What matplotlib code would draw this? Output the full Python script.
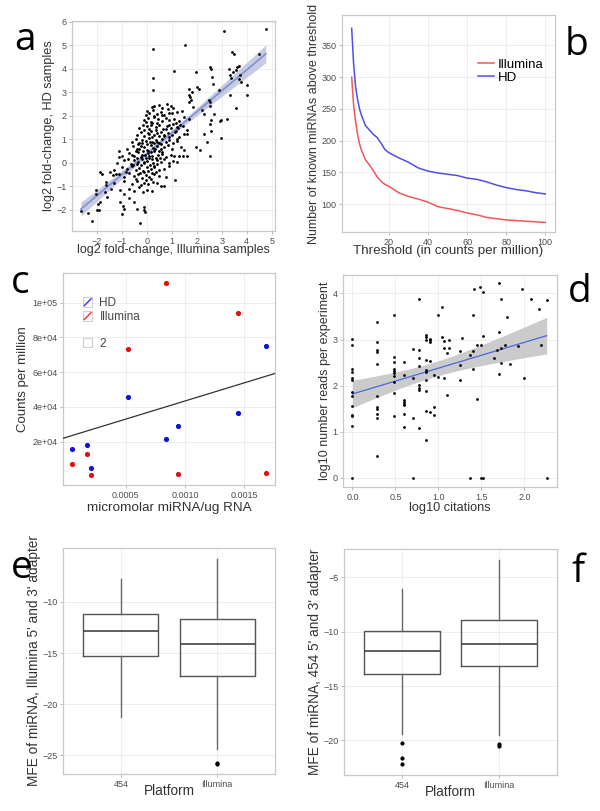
import numpy as np
import matplotlib
matplotlib.use("Agg")
import matplotlib.pyplot as plt
from matplotlib.lines import Line2D
from matplotlib.patches import Rectangle
from matplotlib.legend_handler import HandlerBase

plt.rcParams['font.family'] = ['Liberation Sans', 'DejaVu Sans']

# ---------------- Panel a data ----------------
a_x = [4.76, 3.09, 1.51, 0.24, 3.4, 3.47, 4.47, 1.07, 1.96, 2.53, 2.56, 3.29, 3.6, 3.69, 3.57,
       0.23, 2.6, 3.43, 3.33, 3.73, 3.36, 0.23, 2.0, 2.09, 1.69, 1.67, 1.8, 2.63, 4.0, 4.0, 3.31,
       2.87, 3.69, 3.76, 1.73, 2.53, 2.47, 1.76, 1.69, 1.84, 3.57, 2.53, 2.2, 2.27, 2.67, 3.2, 2.97,
       2.93, 2.56, 2.51, 2.56, 2.96, 2.27, 1.97, 2.11, 2.51, 2.4, 0.87, 1.2, 1.33, 1.13, 1.6, 1.47,
       1.2, 1.13, 0.56, 0.67, -0.13, -0.11, -0.07, -0.27, -0.4, -0.53, -0.73, -1.0, -0.97, -0.93,
       -1.07, -0.93, -1.09, -2.2, -2.37, -2.64, -2.0, -1.91, -1.87, -1.97, -2.04, -2.03, -1.89,
       -1.8, -1.64, -1.64, -1.67, -1.6, -1.43, -1.33, -1.24, -1.36, -1.13, -1.11, -1.47,
       0.2, 0.3, 0.5, 0.62, 0.8, 0.95, 1.05,
       -0.05, 0.02, 0.1, 0.25, 0.4, 0.55, 0.7, 0.85, 1.0, 1.2, 1.4,
       -0.1, 0.05, 0.15, 0.3, 0.45, 0.6, 0.75, 0.9, 1.1, 1.3, 1.5, 1.7,
       -0.3, -0.15, 0.0, 0.1, 0.2, 0.35, 0.5, 0.65, 0.8, 0.95, 1.05, 1.25, 1.45,
       -0.4, -0.25, -0.1, 0.05, 0.15, 0.3, 0.4, 0.55, 0.7, 0.85, 1.0, 1.15, 1.3, 1.6,
       -0.6, -0.45, -0.3, -0.2, -0.05, 0.1, 0.2, 0.35, 0.5, 0.6, 0.75, 0.9, 1.05, 1.2,
       -0.8, -0.55, -0.4, -0.25, -0.1, 0.0, 0.15, 0.25, 0.4, 0.55, 0.7, 0.85, 1.0, 1.35, 1.5,
       -1.0, -0.7, -0.5, -0.35, -0.2, -0.05, 0.05, 0.2, 0.3, 0.45, 0.6, 0.75, 0.95, 1.1, 1.3, 1.45, 1.6,
       -1.2, -0.9, -0.65, -0.5, -0.35, -0.2, -0.1, 0.0, 0.1, 0.25, 0.4, 0.55, 0.7, 0.9, 1.05, 1.2,
       -1.3, -1.0, -0.8, -0.6, -0.45, -0.3, -0.15, 0.0, 0.15, 0.3, 0.5, 0.7, 0.9,
       -1.1, -0.9, -0.7, -0.5, -0.35, -0.2, -0.05, 0.1, 0.3, 0.5, 0.75,
       -0.9, -0.6, -0.4, -0.25, -0.1, 0.05, 0.25, 0.4,
       -0.7, -0.5, -0.3, -0.15, 0.0, 0.2,
       -0.45, -0.3, -0.15, 0.05, 0.18, 0.32, 0.48, -0.38, -0.22, -0.08, 0.08, 0.22, 0.36, 0.52,
       -0.55, -0.4, -0.25, -0.12, 0.12, 0.28, 0.42, -0.35, -0.18, 0.0, 0.12, 0.28, 0.42, 0.58,
       -0.1, 0.08, 0.22, 0.38, 0.5, -0.28, -0.12, 0.05, 0.2, 0.38, -0.42, -0.05, 0.15, -0.6,
       -0.75, -0.85, 0.62, 0.68, 0.78, 0.9, 1.15, 0.15, 0.28, 0.4, -0.02, 0.6, 0.88]
a_y = [5.71, 5.61, 5.03, 4.86, 4.7, 4.62, 4.62, 3.89, 3.86, 4.08, 4.0, 4.0, 4.08, 4.12, 3.96,
       3.62, 3.65, 3.86, 3.72, 3.72, 3.61, 3.08, 3.22, 3.15, 3.15, 2.9, 3.01, 3.37, 3.3, 2.9, 2.87,
       3.08, 3.58, 3.44, 2.8, 2.59, 2.66, 2.68, 2.59, 2.37, 2.33, 2.4, 2.23, 2.09, 2.09, 1.88, 1.83,
       1.76, 1.8, 1.63, 1.35, 1.07, 1.24, 0.67, 0.55, 0.28, 0.88, 1.09, 1.52, 1.59, 1.31, 1.38, 1.24,
       1.02, -0.75, -0.99, -1.0, -1.89, -2.0, -2.1, -2.57, -1.96, -1.68, -1.49, -2.17, -1.85, -1.96,
       -1.68, -1.32, -1.18, -2.5, -2.13, -2.07, -2.0, -2.03, -1.68, -1.75, -1.32, -1.18, -0.4,
       -0.47, -0.97, -0.82, -1.25, -1.46, -1.11, -0.87, -0.47, -0.54, 0.48, 0.24, -0.4,
       2.38, 2.42, 2.45, 2.35, 2.5, 2.4, 2.33,
       2.05, 2.2, 2.12, 2.25, 2.08, 2.18, 2.02, 2.28, 2.1, 2.15, 2.22,
       1.82, 1.9, 1.75, 1.95, 1.85, 1.78, 1.92, 1.8, 1.88, 1.76, 1.95, 1.85,
       1.5, 1.62, 1.55, 1.45, 1.68, 1.52, 1.6, 1.42, 1.58, 1.5, 1.65, 1.48, 1.56,
       1.2, 1.3, 1.15, 1.28, 1.35, 1.18, 1.25, 1.32, 1.12, 1.28, 1.2, 1.35, 1.1, 1.22,
       0.9, 1.0, 0.85, 0.98, 0.92, 1.05, 0.88, 0.95, 0.82, 1.0, 0.9, 0.97, 0.85, 0.93,
       0.6, 0.7, 0.58, 0.72, 0.65, 0.55, 0.75, 0.62, 0.7, 0.58, 0.66, 0.74, 0.6, 0.68, 0.55,
       0.3, 0.4, 0.28, 0.45, 0.35, 0.22, 0.4, 0.3, 0.48, 0.32, 0.38, 0.25, 0.35, 0.3, 0.3, 0.3, 0.3,
       0.0, 0.1, -0.05, 0.12, 0.02, 0.15, -0.02, 0.08, 0.18, 0.0, 0.1, 0.05, 0.15, 0.0, 0.08, 0.05,
       -0.3, -0.2, -0.28, -0.15, -0.32, -0.22, -0.35, -0.18, -0.28, -0.2, -0.3, -0.25, -0.15,
       -0.5, -0.6, -0.45, -0.58, -0.5, -0.65, -0.52, -0.6, -0.48, -0.55, -0.62,
       -0.8, -0.9, -0.78, -0.95, -0.85, -0.9, -0.82, -0.88,
       -1.1, -1.2, -1.05, -1.25, -1.15, -1.22,
       0.5, 0.6, 0.48, 0.52, 0.45, 0.58, 0.5, 0.18, 0.25, 0.32, 0.27, 0.14, 0.2, 0.22,
       -0.1, -0.05, -0.1, 0.05, -0.08, -0.12, -0.05, 0.8, 0.85, 0.78, 0.9, 0.82, 0.88, 0.8,
       1.38, 1.22, 1.1, 1.4, 1.12, -0.42, -0.4, -0.35, -0.42, -0.38, -0.7, -0.72, -0.7, 0.35,
       0.15, -0.4, 0.45, 1.2, 1.45, 1.6, 1.7, 1.62, 1.98, 1.68, 1.72, 2.05, 2.12]
a_xticks = [-2, -1, 0, 1, 2, 3, 4, 5]
a_yticks = [-2, -1, 0, 1, 2, 3, 4, 5, 6]

# ---------------- Panel b data ----------------
b_threshold = [1, 2, 3, 4, 5, 6, 8, 10, 12, 14, 16, 18, 20, 25, 30, 35, 40, 45, 50, 55, 60,
               65, 70, 75, 80, 85, 90, 95, 100]
b_hd = [377, 320, 285, 265, 250, 240, 224, 217, 210, 205, 196, 186, 181, 173, 166, 157, 152,
        149, 147, 145, 141, 139, 135, 130, 126, 123, 121, 118, 116]
b_illumina = [300, 255, 230, 210, 195, 185, 170, 162, 153, 143, 136, 131, 128, 118, 112, 108,
              103, 96, 93, 90, 86, 83, 79, 77, 75, 74, 73, 72, 71]
b_xticks = [20, 40, 60, 80, 100]
b_yticks = [100, 150, 200, 250, 300, 350]

# ---------------- Panel c data ----------------
c_conc = [0.00005, 0.00017, 0.00021, 0.00052, 0.00084, 0.00094, 0.00145, 0.00168]
c_hd = [15800, 18100, 4600, 45800, 21400, 29000, 36200, 74800]
c_illumina = [7100, 12900, 1000, 73500, 111300, 1400, 93700, 2100]
c_line_intercept = 22500
c_line_slope = 2.085e7
c_xticks = [0.0005, 0.0010, 0.0015]
c_ytick_values = [20000, 40000, 60000, 80000, 100000]
c_ytick_labels = ["2e+04", "4e+04", "6e+04", "8e+04", "1e+05"]

# ---------------- Panel d data ----------------
d_cit = [0.0]*13 + [0.29]*11 + [0.48]*10 + [0.6]*8 + [0.7]*4 + [0.78]*8 + [0.85]*10 + \
        [0.9]*5 + [0.95]*3 + [1.0]*2 + [1.04]*2 + [1.07]*3 + [1.1]*2 + [1.12]*2 + [1.25]*3 + \
        [1.28, 1.37, 1.37, 1.4, 1.4, 1.4, 1.42, 1.45, 1.45, 1.48, 1.5, 1.5, 1.52, 1.52, 1.52,
         1.65, 1.68, 1.71, 1.71, 1.71, 1.73, 1.73, 1.73, 1.78, 1.8, 1.83, 1.93, 1.97, 2.0,
         2.08, 2.17, 2.19, 2.26, 2.26]
d_reads = [3.02, 2.89, 2.35, 2.30, 2.16, 2.12, 1.87, 1.77, 1.56, 1.37, 1.34, 1.12, 0.0,
           3.38, 2.95, 2.77, 2.73, 2.47, 1.77, 1.54, 1.50, 1.39, 1.29, 0.48,
           3.54, 2.63, 2.52, 2.35, 2.31, 2.28, 2.21, 2.08, 1.83, 1.35,
           2.52, 2.23, 1.69, 1.65, 1.61, 1.58, 1.39, 1.10,
           2.79, 2.17, 1.30, 0.0,
           3.89, 2.77, 2.59, 2.42, 2.01, 1.94, 1.90, 1.09,
           3.10, 3.06, 2.99, 2.55, 2.34, 2.30, 2.12, 1.88, 1.45, 0.82,
           3.02, 2.99, 2.95, 2.53, 1.43,
           2.23, 1.54, 1.37,
           3.53, 2.18,
           3.70, 3.06,
           2.97, 2.82, 2.16,
           2.70, 1.79,
           3.00, 2.81,
           2.75, 2.44, 2.12,
           3.04, 2.66, 0.0, 3.54, 2.75, 2.36, 4.09, 2.88, 1.70, 4.14, 2.88, 0.0, 4.04, 3.07, 0.0,
           2.59, 2.77, 4.22, 3.17, 2.26, 3.87, 2.48, 2.82, 2.88, 3.49, 2.46, 2.86, 4.09, 2.16,
           3.89, 3.67, 2.89, 3.86, 0.0]
d_xticks = [0.0, 0.5, 1.0, 1.5, 2.0]
d_yticks = [0, 1, 2, 3, 4]

# ---------------- Panels e, f data (box statistics) ----------------
platforms = ["454", "Illumina"]
e_whislo = [-21.2, -24.35]
e_q1 = [-15.25, -17.2]
e_med = [-12.8, -14.1]
e_q3 = [-11.17, -11.66]
e_whishi = [-7.8, -5.8]
e_fliers = [[], [-25.7, -25.85]]
f_whislo = [-19.45, -19.5]
f_q1 = [-13.93, -13.16]
f_med = [-11.75, -11.13]
f_q3 = [-9.94, -8.93]
f_whishi = [-6.07, -3.4]
f_fliers = [[-20.28, -21.66, -22.2], [-20.37, -20.52]]
e_yticks = [-25, -20, -15, -10]
f_yticks = [-20, -15, -10, -5]

# ---------------- figure ----------------
W, H = 600, 811
fig = plt.figure(figsize=(W/100, H/100), dpi=100)

def add_ax(l, r, t, b):
    return fig.add_axes([l/W, 1 - b/H, (r-l)/W, (b-t)/H])

GRID = '#ebebeb'
BORDER = '#c8c8c8'
TICKC = '#4d4d4d'
LABC = '#333333'

def style(ax, tick_fs=6.5):
    ax.set_facecolor('white')
    for s in ax.spines.values():
        s.set_color(BORDER)
        s.set_linewidth(0.9)
    ax.grid(True, which='major', color=GRID, linewidth=0.6)
    ax.set_axisbelow(True)
    ax.tick_params(axis='both', colors='#b0b0b0', labelcolor=TICKC, labelsize=tick_fs,
                   length=2.5, width=0.6, pad=1.5)

def panel_letter(x, y, s):
    fig.text(x/W, 1 - y/H, s, fontsize=28, family=['Open Sans', 'DejaVu Sans'],
             ha='center', va='center', color='black')

def fit_band(x, y, xs):
    x = np.asarray(x, float); y = np.asarray(y, float)
    n = len(x)
    b1, b0 = np.polyfit(x, y, 1)
    resid = y - (b0 + b1*x)
    s = np.sqrt(np.sum(resid**2)/(n-2))
    sxx = np.sum((x - x.mean())**2)
    se = s*np.sqrt(1/n + (xs - x.mean())**2/sxx)
    yhat = b0 + b1*xs
    return yhat, yhat - 1.97*se, yhat + 1.97*se

# ---- a ----
ax = add_ax(72, 275, 21, 231)
style(ax)
xs = np.linspace(min(a_x), max(a_x), 100)
yh, lo, hi = fit_band(a_x, a_y, xs)
ax.fill_between(xs, lo, hi, color='#b9c0dc', alpha=0.8, linewidth=0, zorder=2)
ax.plot(xs, yh, color='#8593d4', lw=1.3, zorder=3)
ax.scatter(a_x, a_y, s=4, color='black', linewidths=0, zorder=4)
ax.set_xlim(-3.0, 5.13)
ax.set_ylim(-2.91, 6.04)
ax.set_xticks(a_xticks)
ax.set_yticks(a_yticks)
ax.set_xlabel('log2 fold-change, Illumina samples', fontsize=9, color=LABC, labelpad=-1)
ax.set_ylabel('log2 fold-change, HD samples', fontsize=9.2, color=LABC, labelpad=1)
panel_letter(25, 40, 'a')

# ---- b ----
ax = add_ax(342, 555, 15, 232)
style(ax)
ax.plot(b_threshold, b_illumina, color='#f0585a', lw=1.1, label='Illumina')
ax.plot(b_threshold, b_hd, color='#4f4fe8', lw=1.1, label='HD')
ax.set_xlim(-3.95, 104.95)
ax.set_ylim(56, 398)
ax.set_xticks(b_xticks)
ax.set_yticks(b_yticks)
ax.set_xlabel('Threshold (in counts per million)', fontsize=9.6, color=LABC, labelpad=-1)
ax.set_ylabel('Number of known miRNAs above threshold', fontsize=9, color=LABC, labelpad=1)
ax.legend(loc='upper left', bbox_to_anchor=(0.64, 0.80), frameon=False, fontsize=9.5,
          handlelength=1.2, handletextpad=0.3, labelspacing=0.05, borderpad=0, borderaxespad=0)
panel_letter(577, 45, 'b')

# ---- c ----
class DiagHandler(HandlerBase):
    def __init__(self, diag=True):
        super().__init__()
        self.diag = diag
    def create_artists(self, legend, orig_handle, xdescent, ydescent, width, height,
                       fontsize, trans):
        sz = height * 1.15
        x0 = -xdescent
        y0 = -ydescent + (height - sz) / 2
        arts = [Rectangle((x0, y0), sz, sz, facecolor='none', edgecolor='#cfcfcf',
                          linewidth=0.8, transform=trans)]
        if self.diag:
            arts.append(Line2D([x0 + 1, x0 + sz - 1], [y0 + 1, y0 + sz - 1],
                               color=orig_handle.get_color(), lw=1.0, transform=trans))
        return arts

ax = add_ax(63, 275, 273, 485)
style(ax)
ax.scatter(c_conc, c_hd, s=14, color='#1010dd', linewidths=0, zorder=4)
ax.scatter(c_conc, c_illumina, s=14, color='#e01010', linewidths=0, zorder=4)
ax.set_xlim(-0.00003, 0.00176)
ax.set_ylim(-5000, 117000)
xl = np.array(ax.get_xlim())
ax.plot(xl, c_line_intercept + c_line_slope*xl, color='#333333', lw=0.9, zorder=3)
ax.set_xlim(-0.00003, 0.00176)
ax.set_xticks(c_xticks)
ax.set_xticklabels(['0.0005', '0.0010', '0.0015'])
ax.set_yticks(c_ytick_values)
ax.set_yticklabels(c_ytick_labels)
ax.set_xlabel('micromolar miRNA/ug RNA', fontsize=9.7, color=LABC, labelpad=2)
ax.set_ylabel('Counts per million', fontsize=9.5, color=LABC, labelpad=2)
h_hd = Line2D([], [], color='#3030ee')
h_il = Line2D([], [], color='#ee3030')
leg1 = ax.legend([h_hd, h_il], ['HD', 'Illumina'], loc='upper left',
                 bbox_to_anchor=(0.094, 0.885), frameon=False, fontsize=8.5,
                 handler_map={Line2D: DiagHandler(True)}, handlelength=1.0,
                 handletextpad=0.4, labelspacing=0.15, borderpad=0, borderaxespad=0,
                 labelcolor='#444444')
ax.add_artist(leg1)
h_two = Line2D([], [], color='none')
ax.legend([h_two], ['2'], loc='upper left', bbox_to_anchor=(0.094, 0.695), frameon=False,
          fontsize=8.5, handler_map={Line2D: DiagHandler(False)}, handlelength=1.0,
          handletextpad=0.4, borderpad=0, borderaxespad=0, labelcolor='#444444')
panel_letter(20, 283, 'c')

# ---- d ----
ax = add_ax(343, 557, 275, 487)
style(ax)
xs = np.linspace(min(d_cit), max(d_cit), 100)
yh, lo, hi = fit_band(d_cit, d_reads, xs)
ax.fill_between(xs, lo, hi, color='#cbcbcb', linewidth=0, zorder=2)
ax.plot(xs, yh, color='#4a68e0', lw=0.9, zorder=3)
ax.scatter(d_cit, d_reads, s=4, color='black', linewidths=0, zorder=4)
ax.set_xlim(-0.11, 2.38)
ax.set_ylim(-0.2, 4.4)
ax.set_xticks(d_xticks)
ax.set_xticklabels(['0.0', '0.5', '1.0', '1.5', '2.0'])
ax.set_yticks(d_yticks)
ax.set_xlabel('log10 citations', fontsize=9.2, color=LABC, labelpad=0.5)
ax.set_ylabel('log10 number reads per experiment', fontsize=9, color=LABC, labelpad=1)
panel_letter(580, 292, 'd')

# ---- e, f ----
def box_panel(rect, whislo, q1, med, q3, whishi, fliers, ylim, yticks, ylabel, letter_pos, letter):
    ax = add_ax(*rect)
    style(ax)
    stats = []
    for i in range(2):
        stats.append(dict(whislo=whislo[i], q1=q1[i], med=med[i], q3=q3[i],
                          whishi=whishi[i], fliers=fliers[i], label=platforms[i]))
    ax.bxp(stats, positions=[1, 2], widths=0.78, showcaps=False,
           boxprops=dict(color='#555555', linewidth=1.0),
           medianprops=dict(color='#444444', linewidth=1.2),
           whiskerprops=dict(color='#666666', linewidth=1.0),
           flierprops=dict(marker='o', markersize=2, markerfacecolor='black',
                           markeredgecolor='black'))
    ax.set_xlim(0.4, 2.6)
    ax.set_ylim(*ylim)
    ax.set_yticks(yticks)
    ax.set_xticks([1, 2])
    ax.set_xticklabels(platforms)
    ax.set_xlabel('Platform', fontsize=9.8, color=LABC, labelpad=-3)
    ax.set_ylabel(ylabel, fontsize=9.8, color=LABC, labelpad=1)
    panel_letter(*letter_pos, letter)
    return ax

box_panel((63, 275, 548, 774), e_whislo, e_q1, e_med, e_q3, e_whishi, e_fliers,
          (-26.82, -4.72), e_yticks, "MFE of miRNA, Illumina 5' and 3' adapter", (22, 568), 'e')
box_panel((344, 557, 549, 775), f_whislo, f_q1, f_med, f_q3, f_whishi, f_fliers,
          (-23.19, -2.39), f_yticks, "MFE of miRNA, 454 5' and 3' adapter", (578, 572), 'f')

fig.savefig('out.png', dpi=100)
